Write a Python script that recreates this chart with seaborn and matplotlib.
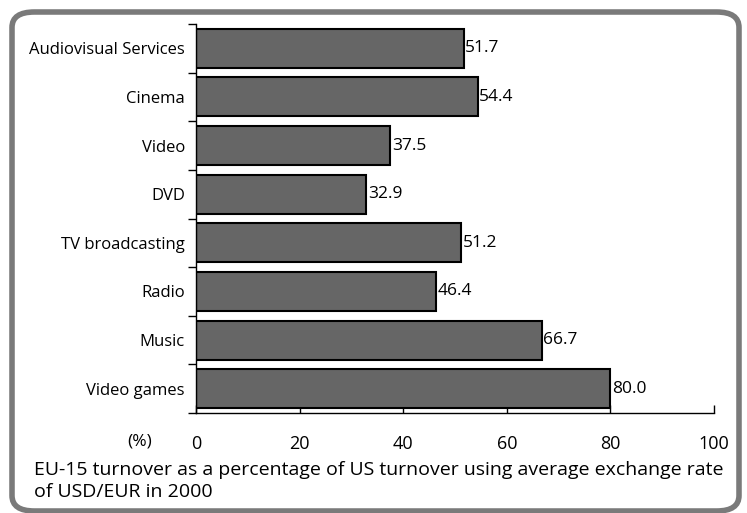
import pandas as pd
import matplotlib.pyplot as plt
import seaborn as sns
from matplotlib.patches import FancyBboxPatch

# data
categorias = ["Audiovisual Services", "Cinema", "Video", "DVD",
              "TV broadcasting", "Radio", "Music", "Video games"]
valores = [51.7, 54.4, 37.5, 32.9, 51.2, 46.4, 66.7, 80.0]
x_ticks = [0, 20, 40, 60, 80, 100]

sns.set_style("ticks", {"text.color": "black", "xtick.color": "black",
                        "ytick.color": "black", "axes.edgecolor": "black"})
plt.rcParams["font.family"] = ["Open Sans", "DejaVu Sans"]

df = pd.DataFrame({"Categoria": categorias, "Valor": valores})

fig = plt.figure(figsize=(7.47, 5.13), dpi=100)
ax = fig.add_axes([196 / 747, 1 - 413 / 513, (714 - 196) / 747, (413 - 24) / 513])

sns.barplot(data=df, x="Valor", y="Categoria", orient="h", color="#666666",
            edgecolor="black", linewidth=1.5, width=0.8, saturation=1, ax=ax)

for i, v in enumerate(valores):
    ax.text(v + 0.3, i, f"{v:.1f}", va="center", ha="left", fontsize=12.5, color="black")

ax.set_xlim(0, 100)
ax.set_ylim(len(categorias) - 0.5, -0.5)
ax.set_xticks(x_ticks)
ax.set_xticklabels([str(t) for t in x_ticks], fontsize=13)
ax.set_yticks(range(len(categorias)))
ax.set_yticklabels(categorias, fontsize=12)
ax.tick_params(axis="y", length=0, pad=8)
ax.tick_params(axis="x", direction="in", length=6, width=1, pad=16)
# ticks between categories on the y axis
ax.set_yticks([i - 0.5 for i in range(len(categorias) + 1)], minor=True)
ax.tick_params(axis="y", which="minor", length=6, width=1, direction="out")
ax.set_xlabel("")
ax.set_ylabel("")
sns.despine(ax=ax)
for s in ["left", "bottom"]:
    ax.spines[s].set_linewidth(1)

fig.text(140 / 747, 1 - 441 / 513, "(%)", ha="center", va="center", fontsize=12.5)
fig.text(34 / 747, 1 - 470 / 513, "EU-15 turnover as a percentage of US turnover using average exchange rate",
         ha="left", va="center", fontsize=14)
fig.text(34 / 747, 1 - 492 / 513, "of USD/EUR in 2000", ha="left", va="center", fontsize=14)

borde = FancyBboxPatch((12 / 747, 2 / 513), 727 / 747, 499 / 513,
                       boxstyle="round,pad=0,rounding_size=0.03",
                       transform=fig.transFigure, fill=False,
                       edgecolor="#7a7a7a", linewidth=4, clip_on=False)
fig.patches.append(borde)

plt.savefig("out.png", dpi=100)
plt.close()
